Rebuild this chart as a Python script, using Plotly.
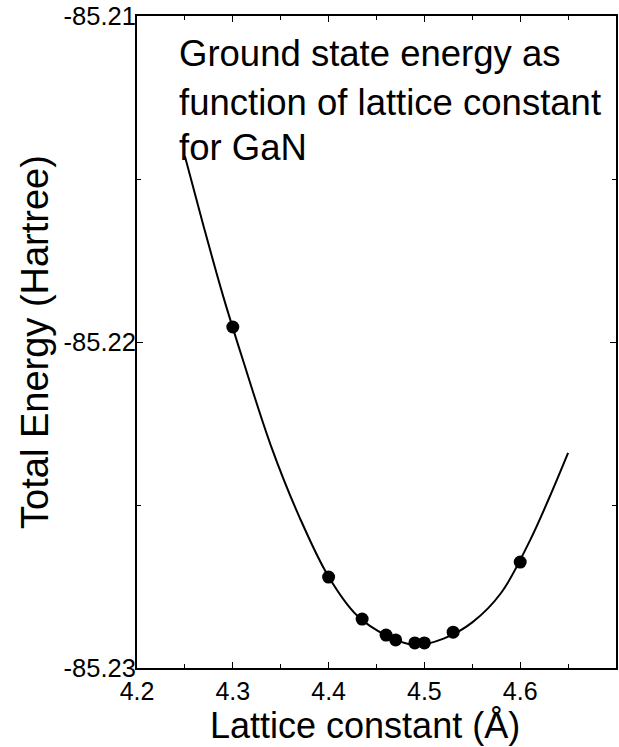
import plotly.graph_objects as go

# Computed data points (lattice constant in Å, total energy in Hartree)
lattice = [4.30, 4.40, 4.435, 4.46, 4.47, 4.49, 4.50, 4.53, 4.60]
energy = [-85.21954, -85.22721, -85.22850, -85.22899, -85.22914,
          -85.22923, -85.22923, -85.22890, -85.22675]

# Fitted curve
curve_x = [4.25, 4.27, 4.29, 4.31, 4.34, 4.37, 4.40, 4.43, 4.46, 4.49,
           4.52, 4.55, 4.58, 4.61, 4.63, 4.65]
curve_y = [-85.2143, -85.2165, -85.2186, -85.2205, -85.2232, -85.2254,
           -85.2272, -85.2284, -85.2290, -85.2293, -85.2291, -85.2286,
           -85.2277, -85.2261, -85.2248, -85.2234]

x_ticks = [4.2, 4.3, 4.4, 4.5, 4.6]
x_ticklabels = ["4.2", "4.3", "4.4", "4.5", "4.6"]
y_ticks = [-85.21, -85.22, -85.23]
y_ticklabels = ["-85.21", "-85.22", "-85.23"]

note_lines = ["Ground state energy as", "function of lattice constant", "for GaN"]
x_title = "Lattice constant (Å)"
y_title = "Total Energy (Hartree)"

FONT = "Liberation Sans, Arial, Helvetica, sans-serif"

fig = go.Figure()
fig.add_trace(go.Scatter(x=curve_x, y=curve_y, mode="lines",
                         line=dict(color="black", width=2, shape="spline"),
                         showlegend=False, hoverinfo="skip"))
fig.add_trace(go.Scatter(x=lattice, y=energy, mode="markers",
                         marker=dict(color="black", size=13),
                         showlegend=False))

L, R, T, B = 137, 1, 16, 79
W, H = 619, 747
pw = W - L - R
ph = H - T - B

# note lines positioned by their centres (pixels from top)
centres = [53, 102, 148]
for txt, cy in zip(note_lines, centres):
    fig.add_annotation(text=txt, xref="paper", yref="paper",
                       x=(177 - L) / pw, y=1 - (cy - T) / ph,
                       xanchor="left", yanchor="middle", showarrow=False,
                       font=dict(family=FONT, size=36.5, color="black"))

# x-axis title, sitting at the bottom of the figure, centred like the reference
fig.add_annotation(text=x_title, xref="paper", yref="paper",
                   x=(366 - L) / pw, y=1 - (H - T) / ph,
                   xanchor="center", yanchor="bottom", showarrow=False,
                   borderpad=0,
                   font=dict(family=FONT, size=36, color="black"))

fig.update_layout(
    width=W, height=H,
    margin=dict(l=L, r=R, t=T, b=B),
    paper_bgcolor="white", plot_bgcolor="white",
    font=dict(family=FONT, color="black"),
    xaxis=dict(range=[4.2, 4.7], tickvals=x_ticks, ticktext=x_ticklabels,
               ticks="inside", ticklen=6, tickwidth=1, tickcolor="black",
               minor=dict(tick0=4.2, dtick=0.05, ticks="inside", ticklen=4,
                          tickcolor="black"),
               showline=True, linecolor="black", linewidth=2, mirror="allticks",
               showgrid=False, zeroline=False,
               ticklabelstandoff=0,
               tickfont=dict(size=25, family=FONT)),
    yaxis=dict(range=[-85.23, -85.21], tickvals=y_ticks, ticktext=y_ticklabels,
               ticks="inside", ticklen=6, tickwidth=1, tickcolor="black",
               minor=dict(tick0=-85.23, dtick=0.005, ticks="inside", ticklen=4,
                          tickcolor="black"),
               showline=True, linecolor="black", linewidth=2, mirror="allticks",
               showgrid=False, zeroline=False,
               ticklabelstandoff=-6,
               tickfont=dict(size=25.5, family=FONT),
               title=dict(text=y_title, font=dict(size=38, family=FONT),
                          standoff=3)),
)

fig.write_html("out.html")
